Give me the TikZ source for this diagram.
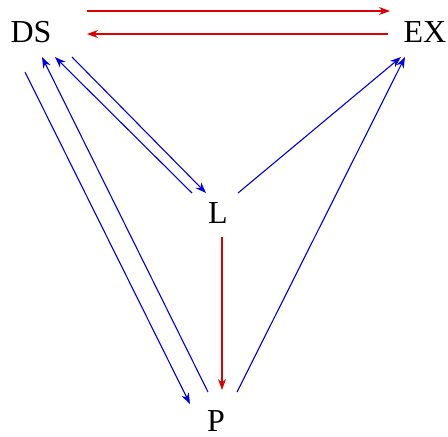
\documentclass[tikz,border=0pt]{standalone}
\usepackage{fontspec}
\setmainfont{Liberation Serif}
\usepackage{xcolor}
\usetikzlibrary{arrows.meta,calc}
\definecolor{redar}{HTML}{DD0000}
\definecolor{bluear}{HTML}{0000DD}
\tikzset{
  vert/.style={inner sep=0pt, font=\fontsize{16}{19}\selectfont},
  rar/.style={-{Stealth[length=5.5pt,width=4pt]}, line width=0.55pt, color=redar},
  bar/.style={-{Stealth[length=5.5pt,width=4pt]}, line width=0.55pt, color=bluear},
}

\begin{document}
\begin{tikzpicture}[x=0.5pt, y=-0.5pt]
\useasboundingbox (0,0) rectangle (448,436);
\node[vert] (DS) at (31,32)  {DS};
\node[vert] (EX) at (425,32) {EX};
\node[vert] (L)  at (218,213) {L};
\node[vert] (P)  at (216,421) {P};

% top pair
\draw[rar] ([shift={(56,-21)}]DS.center) -- ([shift={(-35,-21)}]EX.center);
\draw[rar] ([shift={(-37,2)}]EX.center) -- ([shift={(56,2)}]DS.center);

% DS and L
\draw[bar] ([shift={(41,25)}]DS.center) -- ([shift={(-12,-20)}]L.center);
\draw[bar] ([shift={(-26,-20)}]L.center) -- ([shift={(24,25)}]DS.center);
\draw[bar] ([shift={(20,-20)}]L.center) -- ([shift={(-24,25)}]EX.center);

% DS and P
\draw[bar] ([shift={(-6,40)}]DS.center) -- ([shift={(-26,-17)}]P.center);
\draw[bar] ([shift={(-8,-29)}]P.center) -- ([shift={(11,25)}]DS.center);
\draw[bar] ([shift={(21,-29)}]P.center) -- ([shift={(-20,25)}]EX.center);

% L to P
\draw[rar] ([shift={(4,24)}]L.center) -- ([shift={(6,-31)}]P.center);
\end{tikzpicture}
\end{document}
